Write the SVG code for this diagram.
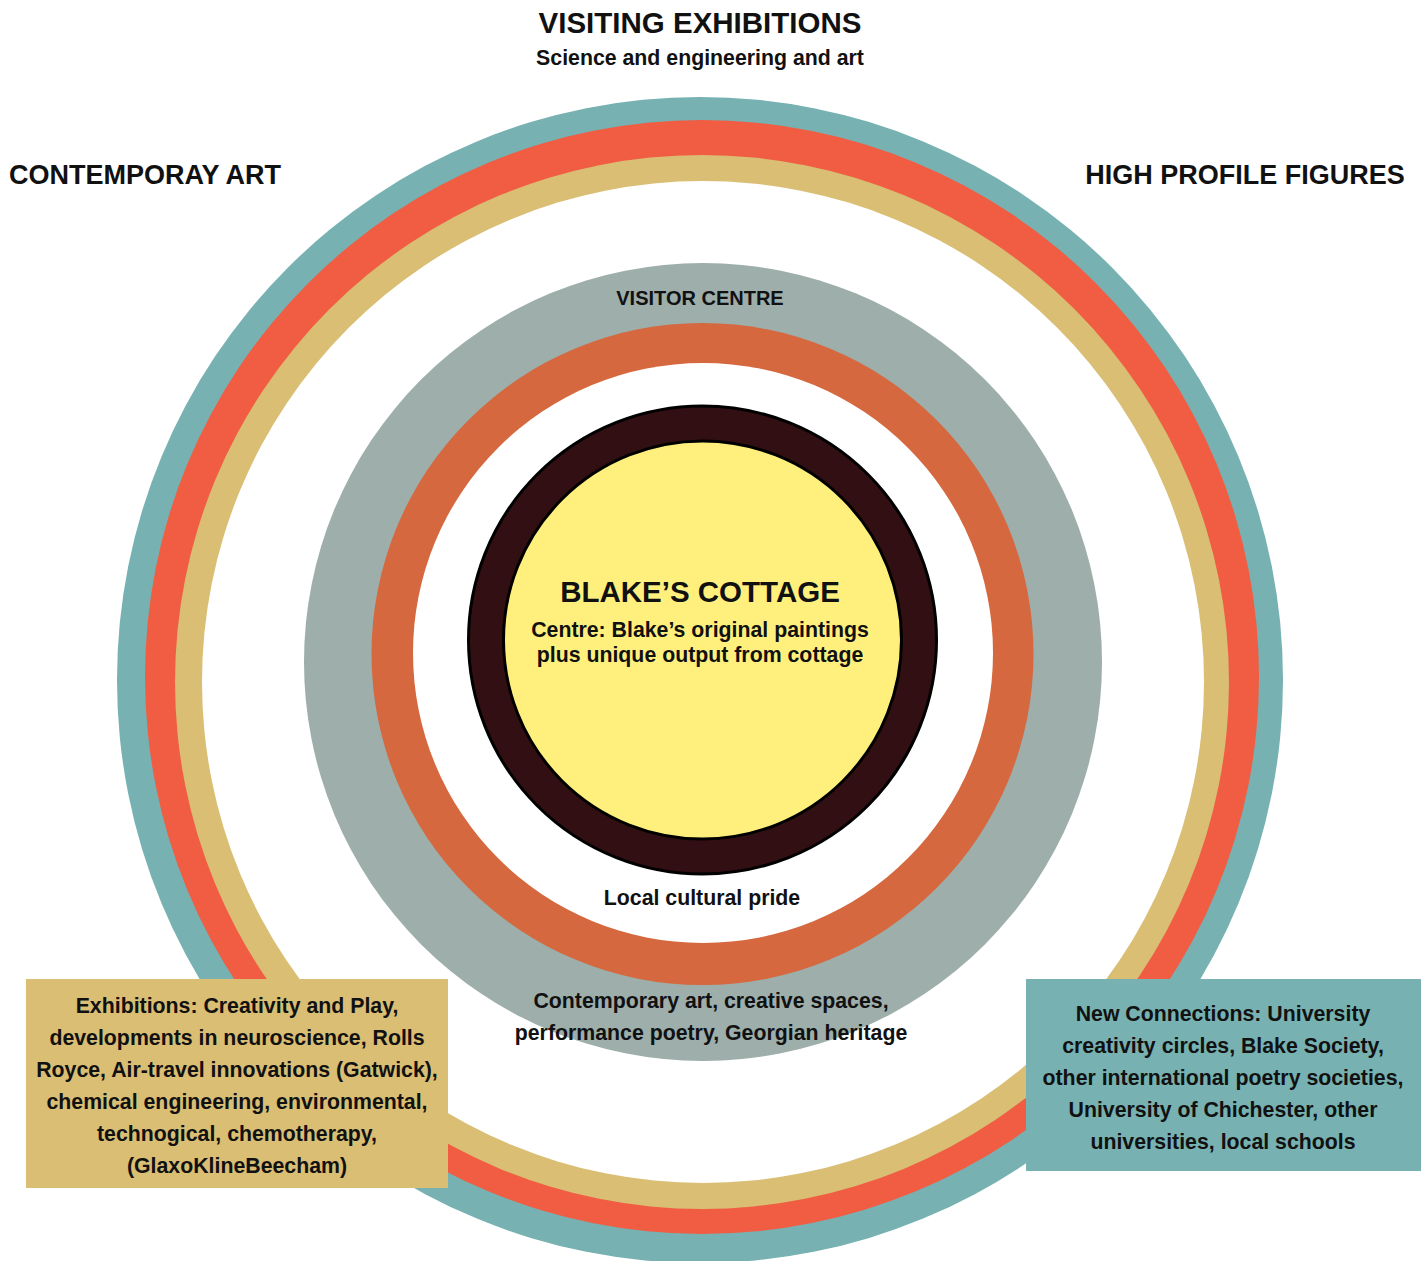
<svg xmlns="http://www.w3.org/2000/svg" width="1421" height="1261" viewBox="0 0 1421 1261">
<style>
text{font-family:"Liberation Sans","DejaVu Sans",sans-serif;font-weight:bold;fill:#111;text-anchor:middle}
.h1{font-size:29.5px}
.h2{font-size:27px}
.b{font-size:21.3px}
.vc{font-size:20px}
.ring{stroke:none}
</style>
<rect width="1421" height="1261" fill="#ffffff"/>
<g id="outer-rings">
<circle class="ring" cx="700" cy="680" r="583" fill="#77B1B2"/>
<circle class="ring" cx="702" cy="677" r="557" fill="#F05D43"/>
<circle class="ring" cx="702" cy="682" r="527" fill="#D9BE74"/>
<circle class="ring" cx="703" cy="682" r="501" fill="#ffffff"/>
</g>
<g id="visitor-centre">
<circle class="ring" cx="703" cy="662" r="399" fill="#9DAEAB"/>
<circle class="ring" cx="702.5" cy="654" r="331" fill="#D5683E"/>
<circle class="ring" cx="703" cy="653" r="290" fill="#ffffff"/>
<text class="vc" x="700" y="305">VISITOR CENTRE</text>
<text class="b" x="702" y="905">Local cultural pride</text>
<text class="b" x="711" y="1008">Contemporary art, creative spaces,</text>
<text class="b" x="711" y="1040">performance poetry, Georgian heritage</text>
</g>
<g id="blakes-cottage">
<circle cx="702.5" cy="640" r="234" fill="#320F12" stroke="#000" stroke-width="3"/>
<circle cx="702.5" cy="640" r="199" fill="#FFF07D" stroke="#000" stroke-width="3"/>
<text class="h1" x="700" y="602">BLAKE’S COTTAGE</text>
<text class="b" x="700" y="637">Centre: Blake’s original paintings</text>
<text class="b" x="700" y="662">plus unique output from cottage</text>
</g>
<g id="visiting-exhibitions">
<text class="h1" x="700" y="33">VISITING EXHIBITIONS</text>
<text class="b" x="700" y="65">Science and engineering and art</text>
</g>
<g id="contemporary-art">
<text class="h2" x="145" y="184">CONTEMPORAY ART</text>
</g>
<g id="high-profile-figures">
<text class="h2" x="1245" y="184">HIGH PROFILE FIGURES</text>
</g>
<g id="exhibitions-box">
<rect x="26" y="979" width="422" height="209" fill="#D9BE74"/>
<text class="b" x="237" y="1013">Exhibitions: Creativity and Play,</text>
<text class="b" x="237" y="1045">developments in neuroscience, Rolls</text>
<text class="b" x="237" y="1077">Royce, Air-travel innovations (Gatwick),</text>
<text class="b" x="237" y="1109">chemical engineering, environmental,</text>
<text class="b" x="237" y="1141">technogical, chemotherapy,</text>
<text class="b" x="237" y="1173">(GlaxoKlineBeecham)</text>
</g>
<g id="new-connections-box">
<rect x="1026" y="979" width="395" height="192" fill="#77B1B2"/>
<text class="b" x="1223" y="1021">New Connections: University</text>
<text class="b" x="1223" y="1053">creativity circles, Blake Society,</text>
<text class="b" x="1223" y="1085">other international poetry societies,</text>
<text class="b" x="1223" y="1117">University of Chichester, other</text>
<text class="b" x="1223" y="1149">universities, local schools</text>
</g>
<g id="connectors"></g>
</svg>
